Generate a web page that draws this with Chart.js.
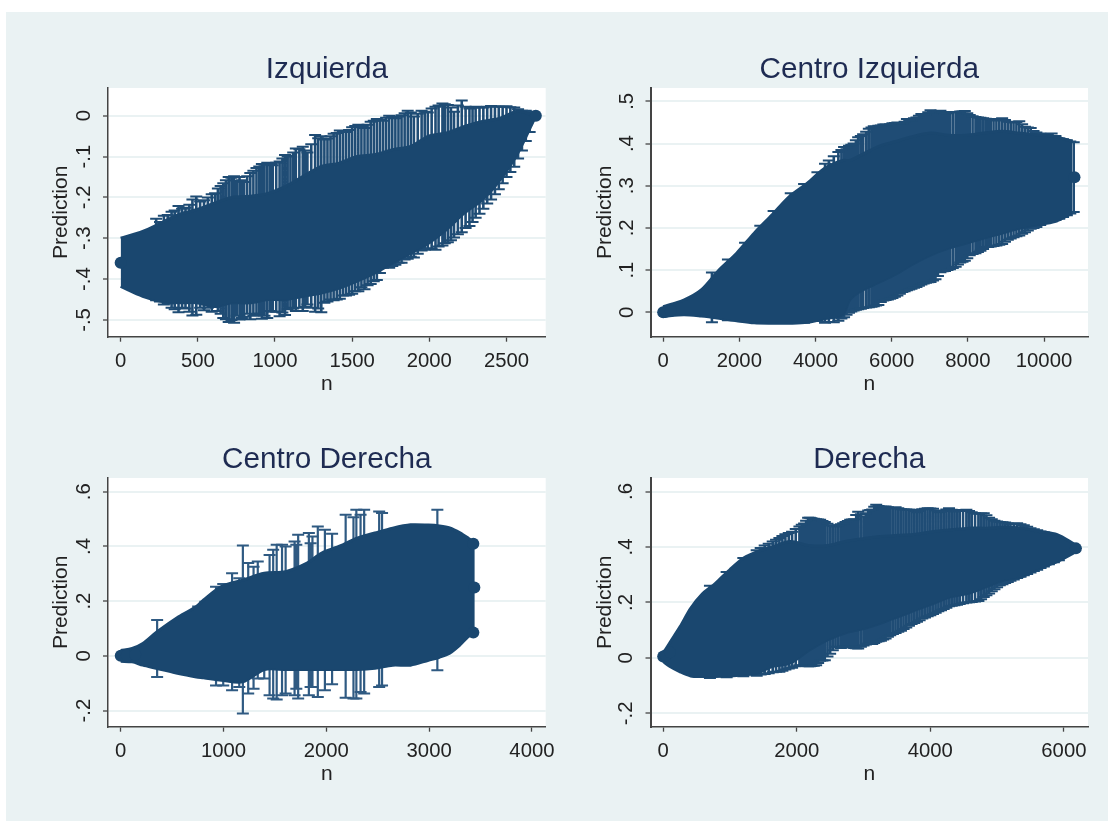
<!DOCTYPE html>
<html>
<head>
<meta charset="utf-8">
<script src="https://cdn.jsdelivr.net/npm/chart.js@4/dist/chart.umd.min.js"></script>
<style>
html,body{margin:0;padding:0;background:#fff;width:1114px;height:821px;overflow:hidden}
#bg{position:absolute;left:6px;top:12px;width:1102px;height:809px;background:#eaf2f3}
canvas{position:absolute}
</style>
</head>
<body>
<div id="bg"></div>
<div id="p1" style="position:absolute;left:0;top:40px;width:575px;height:370px"><canvas id="c1"></canvas></div>
<div id="p2" style="position:absolute;left:556px;top:40px;width:558px;height:370px"><canvas id="c2"></canvas></div>
<div id="p3" style="position:absolute;left:0;top:430px;width:575px;height:370px"><canvas id="c3"></canvas></div>
<div id="p4" style="position:absolute;left:556px;top:430px;width:558px;height:370px"><canvas id="c4"></canvas></div>
<script>
// ---------- Izquierda ----------
const izqCoreN  = [0,143,260,375,490,606,722,838,954,1069,1185,1300,1417,1532,1648,1764,1880,1995,2111,2227,2343,2458,2574,2690];
const izqCoreHi = [-.30,-.283,-.263,-.242,-.23,-.214,-.2,-.197,-.19,-.173,-.148,-.124,-.116,-.10,-.095,-.083,-.075,-.05,-.042,-.026,-.014,-.006,.011,0];
const izqCoreLo = [-.418,-.442,-.454,-.458,-.458,-.467,-.458,-.458,-.45,-.45,-.442,-.434,-.422,-.405,-.385,-.36,-.336,-.312,-.279,-.238,-.206,-.157,-.091,0];
const izqWhiskN  = [230,280,330,375,420,465,490,540,590,630,665,700,735,770,800,840,880,915,950,985,1030,1065,1100,1135,1180,1210,1260,1300,1340,1380,1420,1460,1500,1540,1580,1620,1660,1700,1740,1780,1820,1860,1900,1950,1990,2040,2085,2120,2160,2210,2260,2300,2350,2400,2450,2500,2550,2600,2650];
const izqWhiskLo = [-.452,-.462,-.47,-.481,-.472,-.489,-.487,-.476,-.48,-.478,-.495,-.505,-.507,-.499,-.492,-.498,-.488,-.497,-.495,-.48,-.491,-.488,-.47,-.478,-.478,-.462,-.48,-.481,-.455,-.452,-.448,-.44,-.436,-.43,-.425,-.412,-.402,-.372,-.372,-.365,-.36,-.35,-.347,-.33,-.325,-.328,-.318,-.31,-.298,-.285,-.27,-.25,-.228,-.205,-.18,-.15,-.125,-.085,-.04];
const izqWhiskHi = [-.252,-.245,-.235,-.221,-.225,-.205,-.198,-.207,-.192,-.178,-.165,-.15,-.148,-.15,-.162,-.14,-.128,-.118,-.115,-.121,-.112,-.096,-.098,-.08,-.076,-.09,-.047,-.05,-.056,-.044,-.036,-.04,-.028,-.022,-.03,-.015,-.008,-.012,0,-.006,.001,.012,-.002,.012,.008,.022,.03,.026,.01,.037,.018,.022,.02,.024,.022,.023,.02,.012,.01];
const izqWhisk2N  = [255,305,350,398,445,515,565,612,648,682,718,752,785,820,860,898,932,968,1008,1048,1082,1118,1158,1195,1235,1280,1320,1360,1400,1440,1480,1520,1560,1600,1640,1680,1720,1760,1800,1840,1880,1925,1970,2015,2060,2100,2140,2185,2235,2280,2325,2375,2425,2475,2525,2575,2625];
const izqWhisk2Lo = [-.455,-.46,-.474,-.47,-.48,-.47,-.47,-.468,-.485,-.498,-.5,-.49,-.495,-.485,-.49,-.484,-.49,-.478,-.48,-.482,-.474,-.472,-.47,-.468,-.47,-.472,-.458,-.45,-.45,-.44,-.438,-.43,-.42,-.415,-.405,-.385,-.37,-.368,-.36,-.352,-.345,-.338,-.328,-.325,-.32,-.312,-.305,-.29,-.275,-.26,-.24,-.215,-.192,-.165,-.138,-.105,-.062];
const izqWhisk2Hi = [-.26,-.243,-.232,-.228,-.218,-.21,-.2,-.19,-.172,-.158,-.152,-.16,-.158,-.148,-.135,-.124,-.12,-.118,-.115,-.105,-.1,-.09,-.082,-.085,-.07,-.055,-.058,-.05,-.042,-.04,-.035,-.025,-.025,-.022,-.012,-.01,-.005,-.003,-.002,.006,.008,.005,.01,.018,.025,.028,.02,.025,.022,.02,.02,.022,.023,.022,.021,.016,.012];
const izqMarkN = [0,2690];
const izqMarkY = [-.36,0];
const izqXTicks = [0,500,1000,1500,2000,2500];
const izqXLabels = ["0","500","1000","1500","2000","2500"];
const izqYTicks = [-.5,-.4,-.3,-.2,-.1,0];
const izqYLabels = ["-.5","-.4","-.3","-.2","-.1","0"];

// ---------- Centro Izquierda ----------
const cizCoreN  = [0,540,1000,1465,1930,2390,2860,3320,3785,4250,4710,4900,5180,5640,6100,6570,7030,7490,7960,8420,8890,9350,9800,10280,10740];
const cizCoreHi = [.013,.029,.053,.10,.14,.1875,.231,.275,.306,.342,.36,.36,.372,.393,.405,.417,.425,.42,.42,.425,.429,.425,.421,.417,.405];
const cizCoreLo = [-.01,-.006,-.009,-.014,-.02,-.025,-.026,-.026,-.024,-.015,-.006,.03,.05,.07,.09,.115,.136,.152,.164,.176,.1875,.199,.207,.215,.235];
const cizWhiskN  = [1280,1700,2150,2550,2900,3350,3700,4050,4250,4480,4600,4750,4880,5000,5120,5250,5400,5530,5650,5780,5900,6020,6150,6280,6400,6520,6650,6780,6900,7020,7150,7280,7400,7530,7680,7800,7920,8050,8200,8330,8470,8600,8750,8900,9050,9200,9350,9500,9650,9800,10000,10200,10400,10600,10780];
const cizWhiskLo = [-.024,-.019,-.021,-.024,-.025,-.024,-.025,-.021,-.025,-.024,-.02,-.012,-.001,.004,.007,.01,.012,.014,.017,.028,.03,.034,.04,.048,.052,.056,.06,.066,.07,.072,.078,.095,.098,.102,.108,.118,.122,.135,.14,.146,.155,.156,.158,.162,.172,.178,.182,.19,.198,.202,.212,.216,.222,.23,.238];
const cizWhiskHi = [.094,.125,.165,.205,.24,.282,.304,.332,.352,.37,.38,.392,.395,.40,.415,.422,.435,.441,.442,.445,.443,.448,.45,.447,.458,.455,.462,.47,.468,.479,.476,.478,.47,.475,.474,.476,.477,.468,.463,.461,.459,.457,.455,.46,.452,.45,.453,.44,.437,.426,.422,.424,.412,.408,.403];
const cizWhisk2N  = [4350,4680,4815,4940,5060,5190,5330,5470,5590,5715,5840,5960,6085,6215,6340,6460,6585,6715,6840,6960,7085,7215,7340,7465,7605,7740,7860,7985,8125,8265,8400,8535,8675,8825,8975,9125,9275,9425,9575,9725,9900,10100,10300,10500,10690];
const cizWhisk2Lo = [-.023,-.015,-.006,.002,.006,.008,.011,.013,.016,.024,.029,.032,.037,.044,.05,.054,.058,.063,.068,.071,.075,.086,.097,.1,.105,.113,.12,.128,.138,.143,.15,.155,.157,.16,.167,.175,.18,.186,.194,.2,.207,.214,.219,.226,.234];
const cizWhisk2Hi = [.36,.385,.39,.397,.408,.418,.428,.438,.44,.443,.445,.446,.449,.448,.452,.456,.46,.466,.469,.474,.477,.477,.474,.472,.474,.475,.476,.472,.465,.462,.46,.458,.456,.458,.456,.451,.451,.446,.438,.43,.424,.423,.418,.41,.405];
const cizMarkN = [0,60,200,10800];
const cizMarkY = [0,.001,.003,.32];
const cizXTicks = [0,2000,4000,6000,8000,10000];
const cizXLabels = ["0","2000","4000","6000","8000","10000"];
const cizYTicks = [0,.1,.2,.3,.4,.5];
const cizYLabels = ["0",".1",".2",".3",".4",".5"];

// ---------- Centro Derecha ----------
const cdeCoreN  = [0,111,215,354,563,736,806,979,1188,1396,1604,1812,1951,2160,2299,2472,2646,2819,2993,3100,3200,3300,3380,3444];
const cdeCoreHi = [.02,.027,.045,.088,.143,.18,.204,.253,.277,.302,.308,.339,.375,.406,.43,.449,.467,.479,.478,.475,.468,.45,.43,.412];
const cdeCoreLo = [-.02,-.022,-.034,-.046,-.065,-.077,-.08,-.089,-.095,-.05,-.05,-.05,-.05,-.05,-.05,-.045,-.034,-.034,-.016,-.005,.01,.04,.07,.085];
const cdeWhiskN  = [354,753,823,927,997,1083,1153,1188,1240,1292,1333,1396,1448,1483,1517,1569,1604,1691,1708,1726,1830,1847,1865,1917,1986,2056,2188,2264,2292,2333,2368,2514,2542,3080];
const cdeWhiskLo = [-.077,-.071,-.077,-.108,-.108,-.126,-.114,-.211,-.138,-.12,-.083,-.083,-.144,-.156,-.16,-.144,-.138,-.144,-.12,-.156,-.144,-.114,-.114,-.15,-.126,-.104,-.153,-.156,-.156,-.132,-.138,-.114,-.108,-.053];
const cdeWhiskHi = [.131,.18,.198,.253,.263,.302,.284,.403,.339,.326,.345,.253,.369,.388,.406,.406,.40,.418,.406,.443,.449,.412,.436,.473,.461,.446,.516,.507,.534,.516,.534,.528,.522,.534];
const cdeWhisk2N  = [];
const cdeWhisk2Lo = [];
const cdeWhisk2Hi = [];
const cdeMarkN = [0,60,140,3430,3440,3430];
const cdeMarkY = [0,.002,.005,.41,.25,.085];
const cdeXTicks = [0,1000,2000,3000,4000];
const cdeXLabels = ["0","1000","2000","3000","4000"];
const cdeYTicks = [-.2,0,.2,.4,.6];
const cdeYLabels = ["-.2","0",".2",".4",".6"];

// ---------- Derecha ----------
const derCoreN  = [0,95,254,412,571,783,994,1206,1418,1630,1900,2190,2460,2720,2990,3250,3520,3780,4050,4310,4570,4840,5100,5370,5630,5900,6160];
const derCoreHi = [.017,.053,.113,.179,.227,.269,.317,.36,.384,.40,.42,.405,.405,.42,.43,.438,.442,.446,.456,.462,.468,.468,.471,.468,.456,.444,.41];
const derCoreLo = [-.013,-.03,-.05,-.065,-.067,-.067,-.065,-.061,-.055,-.031,-.019,.029,.065,.09,.105,.125,.149,.173,.197,.221,.233,.257,.281,.293,.323,.347,.38];
const derWhiskN  = [700,950,1200,1400,1520,1640,1740,1830,1930,2040,2110,2170,2220,2290,2350,2420,2500,2580,2660,2730,2800,2860,2920,3000,3070,3130,3190,3260,3330,3400,3480,3560,3640,3720,3800,3880,3960,4040,4120,4200,4280,4360,4440,4540,4620,4720,4800,4880,4960,5040,5120,5200,5300,5400,5500,5600,5700,5850];
const derWhiskLo = [-.072,-.07,-.066,-.064,-.058,-.052,-.05,-.042,-.035,-.026,-.028,-.03,-.029,-.026,-.01,-.008,.015,.04,.036,.042,.04,.036,.034,.045,.052,.05,.058,.062,.07,.082,.09,.098,.11,.122,.13,.142,.15,.158,.168,.176,.186,.19,.194,.2,.202,.205,.22,.232,.248,.262,.27,.278,.288,.298,.308,.318,.33,.345];
const derWhiskHi = [.26,.31,.36,.388,.405,.42,.432,.446,.455,.474,.485,.505,.504,.50,.498,.49,.478,.474,.482,.49,.498,.50,.527,.51,.532,.535,.552,.545,.546,.54,.543,.536,.535,.534,.525,.536,.54,.538,.525,.53,.54,.528,.532,.534,.525,.52,.522,.505,.495,.49,.488,.482,.486,.478,.468,.46,.452,.44];
const derWhisk2N  = [1460,1580,1690,1785,1880,1985,2075,2140,2195,2255,2320,2385,2460,2540,2620,2695,2765,2830,2890,2960,3035,3100,3160,3225,3295,3365,3440,3520,3600,3680,3760,3840,3920,4000,4080,4160,4240,4320,4400,4490,4580,4670,4760,4840,4920,5000,5080,5160,5250,5350,5450,5550,5650,5775,5925];
const derWhisk2Lo = [-.06,-.055,-.05,-.046,-.038,-.03,-.027,-.029,-.03,-.028,-.018,-.009,.005,.028,.038,.04,.041,.038,.035,.04,.048,.051,.054,.06,.066,.076,.086,.094,.104,.116,.126,.136,.146,.154,.163,.172,.181,.188,.192,.197,.201,.203,.212,.226,.24,.255,.266,.274,.283,.293,.303,.313,.324,.338,.352];
const derWhisk2Hi = [.396,.412,.426,.44,.45,.465,.48,.495,.505,.502,.499,.494,.484,.476,.478,.486,.494,.499,.515,.518,.522,.533,.545,.548,.545,.543,.541,.54,.535,.534,.53,.53,.538,.539,.532,.527,.535,.534,.53,.533,.53,.522,.521,.514,.5,.492,.489,.485,.484,.482,.473,.464,.456,.446,.43];
const derMarkN = [0,40,100,6180];
const derMarkY = [.005,.01,.02,.395];
const derXTicks = [0,2000,4000,6000];
const derXLabels = ["0","2000","4000","6000"];
const derYTicks = [-.2,0,.2,.4,.6];
const derYLabels = ["-.2","0",".2",".4",".6"];

const NAVY = '#1a476f', BG = '#eaf2f3', FONT = '"Liberation Sans", Arial, sans-serif';

const whiteArea = {
  id: 'whiteArea',
  beforeDraw(c){ const a=c.chartArea; c.ctx.save(); c.ctx.fillStyle='#fff'; c.ctx.fillRect(a.left,a.top,a.right-a.left,a.bottom-a.top); c.ctx.restore(); }
};

function panel(id, cfg){
  const zip = (xs, ys) => xs.map((x,i)=>({x, y:ys[i]}));
  const wn = cfg.wN.concat(cfg.w2N), wl = cfg.wLo.concat(cfg.w2Lo), wh = cfg.wHi.concat(cfg.w2Hi);
  const whiskers = wn.flatMap((x,i)=>[{x,y:wl[i]},{x,y:wh[i]},{x,y:null}]);
  new Chart(document.getElementById(id), {
    type: 'scatter',
    plugins: [whiteArea],
    data: { datasets: [
      { data: zip(cfg.cN,cfg.cHi), showLine:true, fill:'+1', backgroundColor:NAVY, borderColor:NAVY, borderWidth:3, pointRadius:0, tension:.3, order:2 },
      { data: zip(cfg.cN,cfg.cLo), showLine:true, fill:false, borderColor:NAVY, borderWidth:3, pointRadius:0, tension:.3, order:2 },
      { data: whiskers, showLine:true, spanGaps:false, borderColor:cfg.wC, borderWidth:cfg.wW, pointStyle:'line', pointRadius:6, pointBorderColor:cfg.wC, pointBorderWidth:2, pointBackgroundColor:cfg.wC, order:3 },
      { data: zip(cfg.mN,cfg.mY), showLine:false, pointStyle:'circle', pointRadius:6, pointBackgroundColor:NAVY, pointBorderColor:NAVY, pointBorderWidth:0, order:1 }
    ]},
    options: {
      responsive:true, maintainAspectRatio:false, animation:false,
      layout:{padding:{left:0,top:0,right:cfg.padR,bottom:0}},
      plugins:{
        legend:{display:false}, tooltip:{enabled:false},
        title:{display:true,fullSize:false,text:cfg.title,color:'#1e2b52',font:{family:FONT,size:29.7,weight:'normal',lineHeight:1.2},padding:{top:12.2,bottom:.2}}
      },
      scales:{
        x:{
          type:'linear', min:cfg.xMin, max:cfg.xMax,
          afterBuildTicks(s){ s.ticks = cfg.xT.map(value=>({value})); },
          afterFit(s){ s.height = 73.3; },
          border:{color:'#444',width:1.5},
          grid:{drawOnChartArea:false,drawTicks:true,tickLength:5,tickColor:'#444',tickWidth:1.3},
          ticks:{autoSkip:false,maxRotation:0,minRotation:0,padding:8,color:'#222',font:{family:FONT,size:20.3},callback:(v,i)=>cfg.xL[i]},
          title:{display:true,text:'n',color:'#222',font:{family:FONT,size:21},padding:{top:13.5,bottom:13.5}}
        },
        y:{
          type:'linear', min:cfg.yMin, max:cfg.yMax,
          afterBuildTicks(s){ s.ticks = cfg.yT.map(value=>({value})); },
          afterFit(s){ s.width = cfg.yW; },
          border:{color:'#444',width:cfg.yB},
          grid:{color:BG,lineWidth:2,drawTicks:true,tickLength:5,tickColor:'#444',tickWidth:1.3},
          ticks:{autoSkip:false,minRotation:90,maxRotation:90,crossAlign:'center',padding:cfg.yPad,color:'#222',font:{family:FONT,size:20.3},callback:(v,i)=>cfg.yL[i]},
          title:{display:true,text:'Prediction',color:'#222',font:{family:FONT,size:21},padding:{top:cfg.yT0,bottom:0}}
        }
      }
    }
  });
}

panel('c1',{title:'Izquierda',cN:izqCoreN,cHi:izqCoreHi,cLo:izqCoreLo,wN:izqWhiskN,wLo:izqWhiskLo,wHi:izqWhiskHi,w2N:izqWhisk2N,w2Lo:izqWhisk2Lo,w2Hi:izqWhisk2Hi,mN:izqMarkN,mY:izqMarkY,xT:izqXTicks,xL:izqXLabels,yT:izqYTicks,yL:izqYLabels,
  xMin:-82,xMax:2754,yMin:-.541,yMax:.0678,padR:29.3,yW:108,yB:1.5,yPad:7,yT0:48.5,wW:2.6,wC:'#1f4c75'});
panel('c2',{title:'Centro Izquierda',cN:cizCoreN,cHi:cizCoreHi,cLo:cizCoreLo,wN:cizWhiskN,wLo:cizWhiskLo,wHi:cizWhiskHi,w2N:cizWhisk2N,w2Lo:cizWhisk2Lo,w2Hi:cizWhisk2Hi,mN:cizMarkN,mY:cizMarkY,xT:cizXTicks,xL:cizXLabels,yT:cizYTicks,yL:cizYLabels,
  xMin:-333,xMax:11155,yMin:-.058,yMax:.5317,padR:26,yW:94.5,yB:2,yPad:10,yT0:36.5,wW:2.6,wC:'#1f4c75'});
panel('c3',{title:'Centro Derecha',cN:cdeCoreN,cHi:cdeCoreHi,cLo:cdeCoreLo,wN:cdeWhiskN,wLo:cdeWhiskLo,wHi:cdeWhiskHi,w2N:cdeWhisk2N,w2Lo:cdeWhisk2Lo,w2Hi:cdeWhisk2Hi,mN:cdeMarkN,mY:cdeMarkY,xT:cdeXTicks,xL:cdeXLabels,yT:cdeYTicks,yL:cdeYLabels,
  xMin:-124,xMax:4134,yMin:-.259,yMax:.65,padR:29.3,yW:108,yB:1.5,yPad:7,yT0:48.5,wW:2.2,wC:'#2f5a82'});
panel('c4',{title:'Derecha',cN:derCoreN,cHi:derCoreHi,cLo:derCoreLo,wN:derWhiskN,wLo:derWhiskLo,wHi:derWhiskHi,w2N:derWhisk2N,w2Lo:derWhisk2Lo,w2Hi:derWhisk2Hi,mN:derMarkN,mY:derMarkY,xT:derXTicks,xL:derXLabels,yT:derYTicks,yL:derYLabels,
  xMin:-190,xMax:6361,yMin:-.248,yMax:.6486,padR:26,yW:94.5,yB:2,yPad:7,yT0:36.5,wW:2.6,wC:'#1f4c75'});
</script>
</body>
</html>
